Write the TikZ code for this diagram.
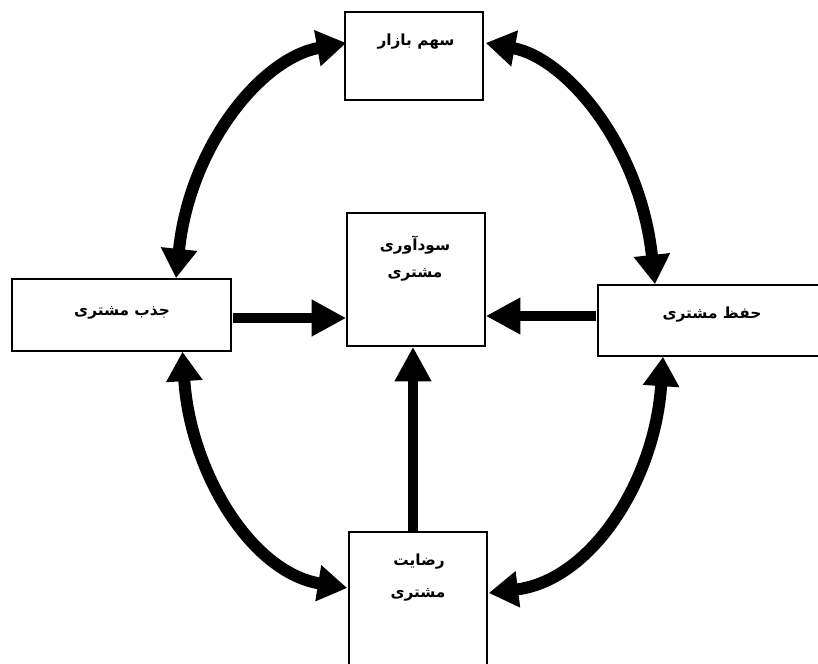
\documentclass[tikz,border=0pt]{standalone}
\usepackage{fontspec}
\usetikzlibrary{arrows.meta,calc}
\TeXXeTstate=1
\newfontfamily\fa[Script=Arabic]{DejaVu Sans}
\begin{document}
\begin{tikzpicture}[x=0.75pt,y=-0.75pt,
  box/.style={draw=black,line width=1.2pt,fill=white,inner sep=0pt},
  lbl/.style={font=\fa\bfseries\fontsize{11.5}{14}\selectfont,inner sep=0pt},
  curvearrow/.style={line width=9pt,black,
    {Triangle[length=22pt,width=26pt]}-{Triangle[length=22pt,width=26pt]}},
  straightarrow/.style={line width=8pt,black,-{Triangle[length=26pt,width=26pt]}}]
\clip (0,0) rectangle (818,664);
\fill[white] (0,0) rectangle (818,664);

% boxes
\node[box,minimum width=103.5pt,minimum height=66pt]   (T) at (414,56) {};
\node[box,minimum width=103.5pt,minimum height=99.75pt] (C) at (416,279.5) {};
\node[box,minimum width=164.25pt,minimum height=54pt]  (L) at (121.5,315) {};
\node[box,minimum width=172.5pt,minimum height=53.25pt] (R) at (713,320.5) {};
\node[box,minimum width=103.5pt,minimum height=112.5pt] (B) at (418,607) {};

% labels
\node[lbl] (tT)  at (416,42)  {\beginR سهم بازار\endR};
\node[lbl] (tC1) at (415,245) {\beginR سودآوری\endR};
\node[lbl] (tC2) at (415,275) {\beginR مشتری\endR};
\node[lbl] (tL)  at (122,313) {\beginR جذب مشتری\endR};
\node[lbl] (tR)  at (712,315) {\beginR حفظ مشتری\endR};
\node[lbl] (tB1) at (419,562) {\beginR رضایت\endR};
\node[lbl] (tB2) at (418,595) {\beginR مشتری\endR};

% straight arrows into the centre box
\draw[straightarrow] ($(L.east)+(1,3)$) -- ($(C.west)+(0,38.5)$);
\draw[straightarrow] ($(R.west)+(-1,-4.5)$) -- ($(C.east)+(0,36.5)$);
\draw[straightarrow] ($(B.north)+(-5,0)$) -- ($(C.south)+(-3,0)$);

% curved two-way arrows around the ring
\draw[curvearrow] ($(L.north)+(54.5,0)$) .. controls (190,145) and (262,58) .. ($(T.west)+(2,-13)$);
\draw[curvearrow] ($(T.east)+(2,-13)$) .. controls (566,58) and (640,145) .. ($(R.north)+(-58,0)$);
\draw[curvearrow] ($(L.south)+(61,0)$) .. controls (190,470) and (250,572) .. ($(B.west)+(-1,-19)$);
\draw[curvearrow] ($(R.south)+(-50,0)$) .. controls (655,480) and (592,580) .. ($(B.east)+(1,-14)$);
\end{tikzpicture}
\end{document}
